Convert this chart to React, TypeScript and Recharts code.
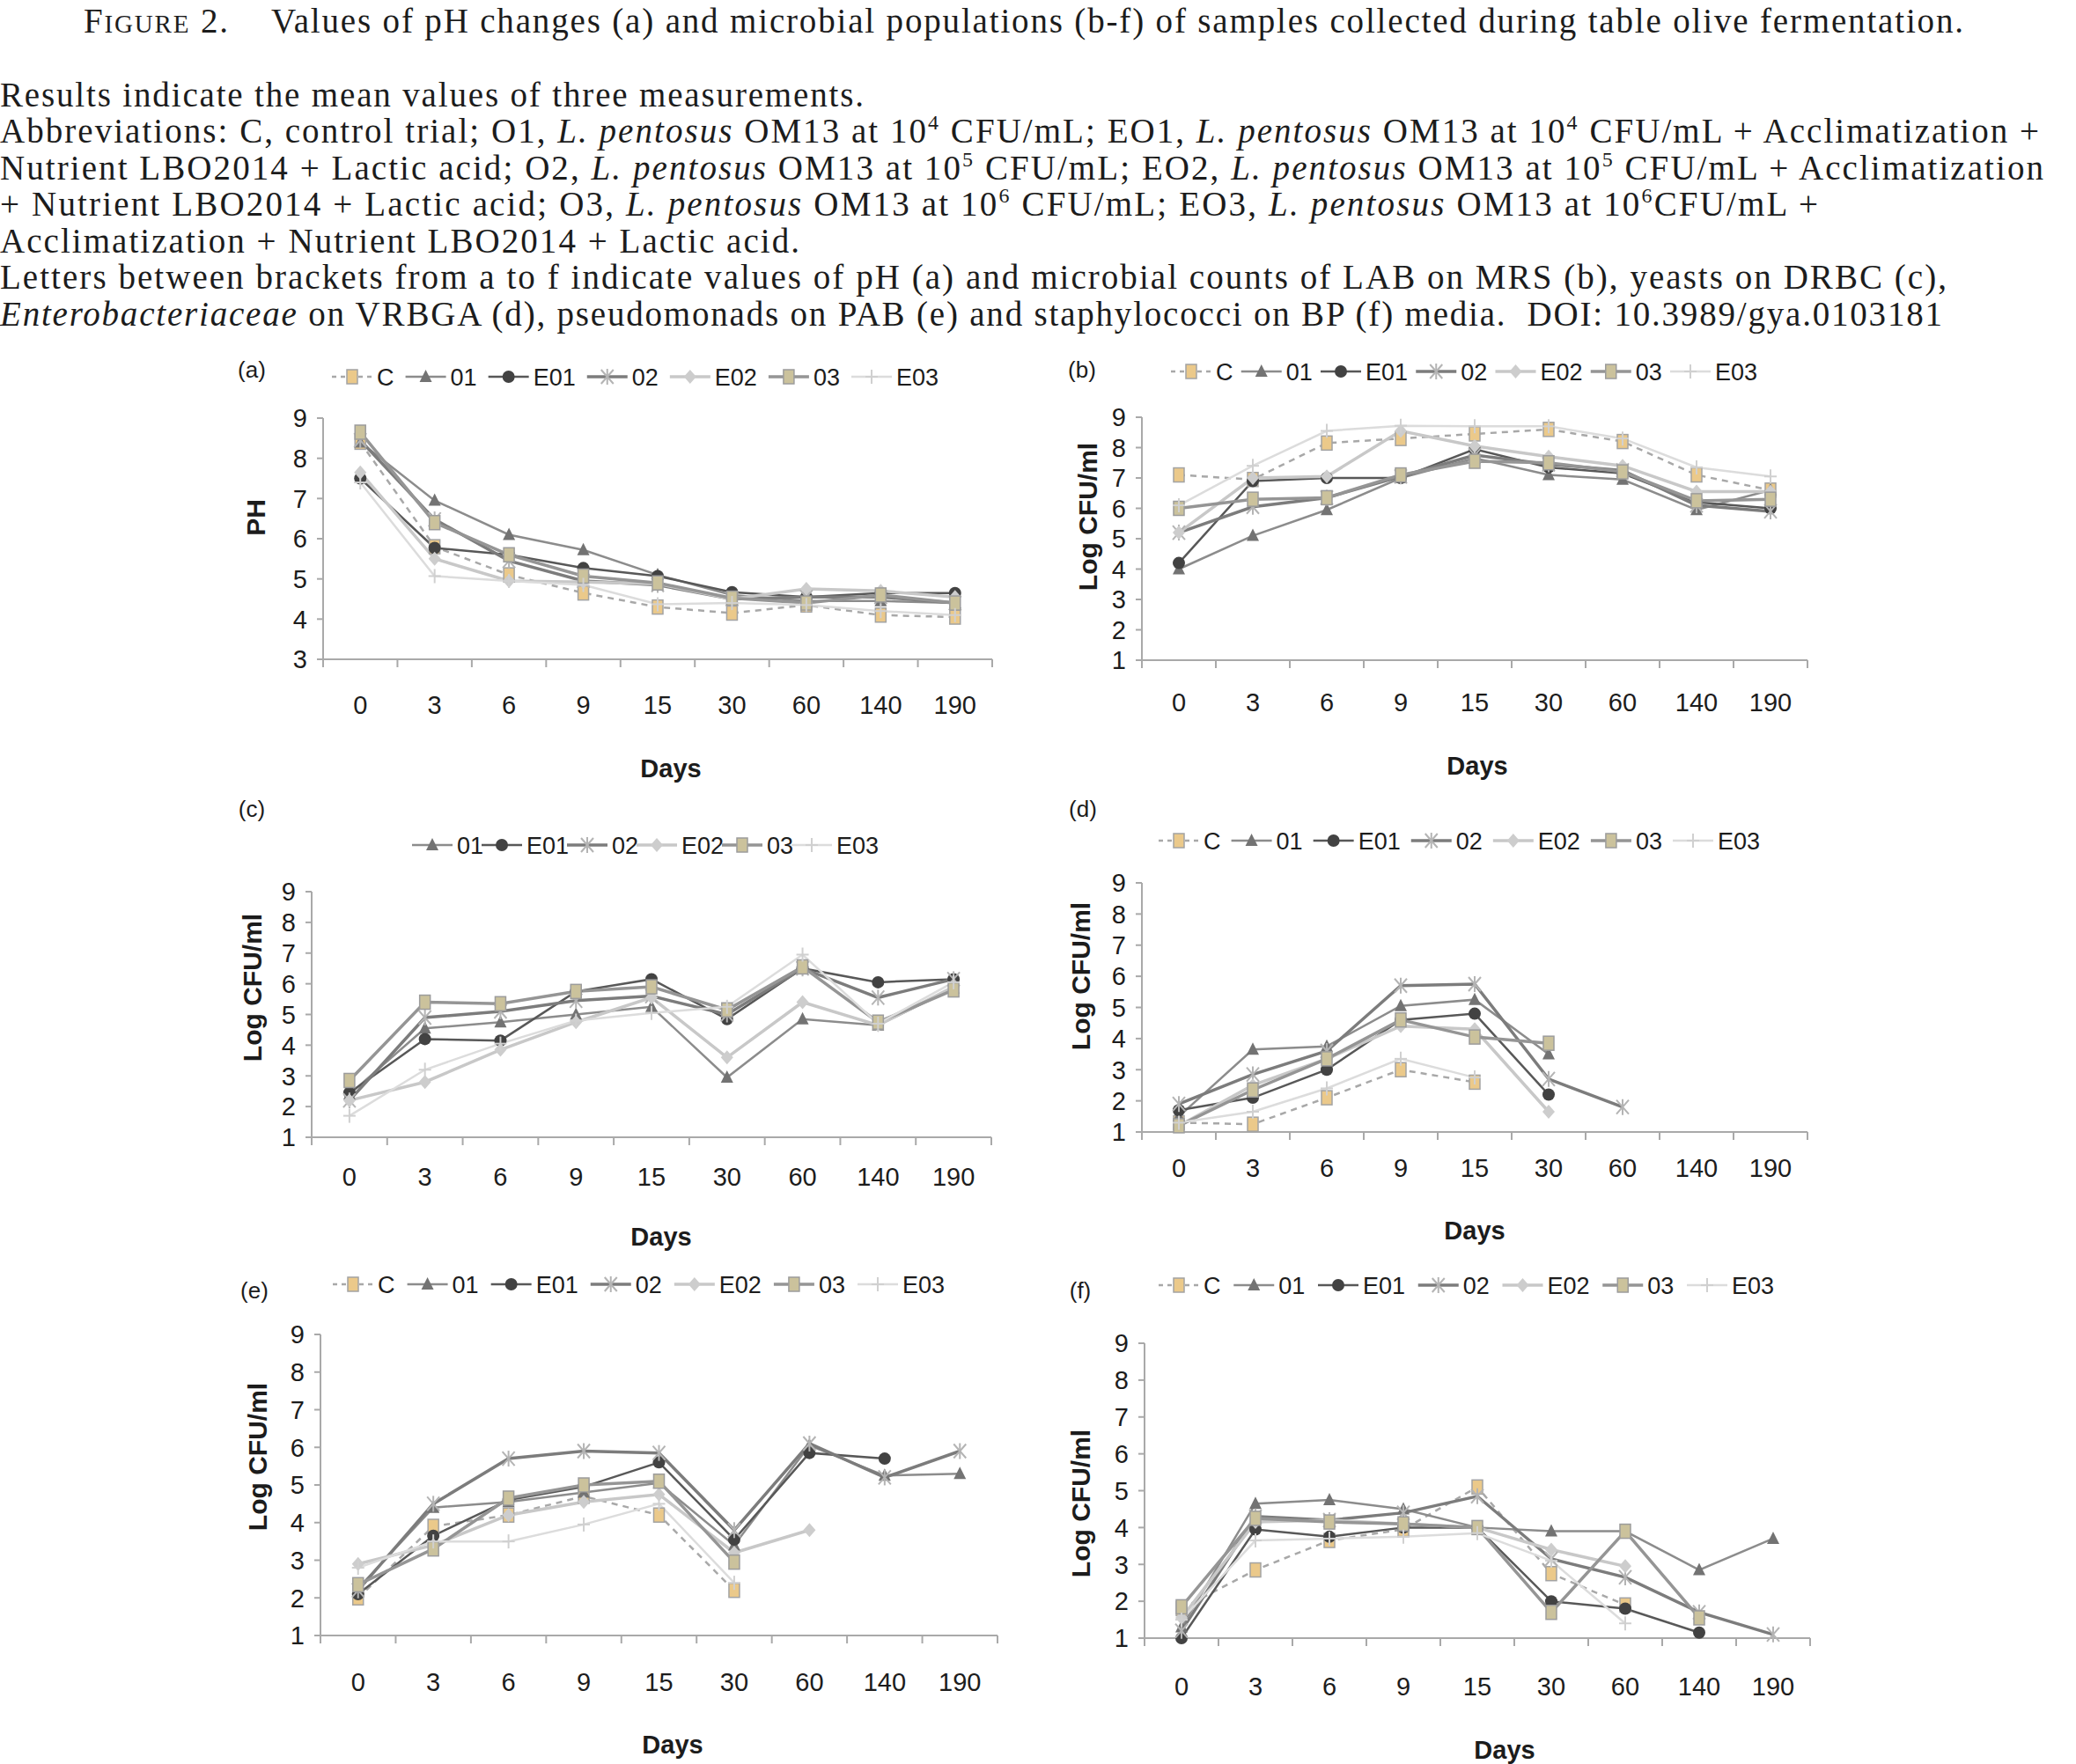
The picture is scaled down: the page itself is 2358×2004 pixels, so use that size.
import React from 'react';
import { LineChart, Line, XAxis, YAxis } from 'recharts';

// sampling days, shared by every panel
const days = ['0', '3', '6', '9', '15', '30', '60', '140', '190'];
const allTrials = ['C', '01', 'E01', '02', 'E02', '03', 'E03'];
const yeastTrials = ['01', 'E01', '02', 'E02', '03', 'E03'];

// (a) pH
const phC = [8.4, 5.8, 5.1, 4.65, 4.3, 4.15, 4.35, 4.1, 4.05];
const ph01 = [8.4, 6.95, 6.1, 5.72, 5.1, 4.6, 4.45, 4.45, 4.4];
const phE01 = [7.5, 5.77, 5.6, 5.27, 5.07, 4.67, 4.55, 4.65, 4.65];
const ph02 = [8.45, 6.48, 5.45, 4.95, 4.85, 4.5, 4.55, 4.55, 4.4];
const phE02 = [7.65, 5.5, 4.95, 4.92, 4.88, 4.5, 4.75, 4.7, 4.55];
const ph03 = [8.65, 6.4, 5.6, 5.07, 4.9, 4.52, 4.4, 4.6, 4.4];
const phE03 = [7.4, 5.07, 4.95, 4.85, 4.37, 4.4, 4.35, 4.2, 4.1];

// (b) LAB on MRS
const labC = [7.1, 6.95, 8.15, 8.3, 8.45, 8.6, 8.2, 7.1, 6.6];
const lab01 = [4.0, 5.1, 5.95, 7.0, 7.65, 7.1, 6.95, 5.95, 6.6];
const labE01 = [4.2, 6.9, 7.0, 7.0, 7.95, 7.35, 7.15, 6.2, 6.0];
const lab02 = [5.2, 6.05, 6.35, 7.05, 7.75, 7.45, 7.25, 6.1, 5.9];
const labE02 = [5.2, 7.0, 7.05, 8.55, 8.05, 7.7, 7.4, 6.55, 6.55];
const lab03 = [6.0, 6.3, 6.35, 7.1, 7.55, 7.5, 7.2, 6.25, 6.3];
const labE03 = [6.1, 7.4, 8.55, 8.72, 8.7, 8.7, 8.3, 7.35, 7.05];

// (c) yeasts on DRBC
const yeast01 = [2.4, 4.55, 4.75, 5.0, 5.25, 2.95, 4.85, 4.65, 5.85];
const yeastE01 = [2.45, 4.2, 4.15, 5.75, 6.15, 4.85, 6.5, 6.05, 6.15];
const yeast02 = [2.2, 4.9, 5.1, 5.45, 5.6, 5.0, 6.5, 5.55, 6.15];
const yeastE02 = [2.2, 2.8, 3.85, 4.75, 5.55, 3.6, 5.4, 4.65, 5.9];
const yeast03 = [2.85, 5.4, 5.35, 5.75, 5.9, 5.15, 6.55, 4.75, 5.8];
const yeastE03 = [1.7, 3.2, 4.05, 4.8, 5.05, 5.25, 6.95, 4.7, 6.05];

// (d) Enterobacteriaceae on VRBGA
const entC = [1.3, 1.25, 2.1, 3.0, 2.6, null, null, null, null];
const ent01 = [1.5, 3.65, 3.75, 5.05, 5.25, 3.5, null, null, null];
const entE01 = [1.7, 2.1, 3.0, 4.6, 4.8, 2.2, null, null, null];
const ent02 = [1.9, 2.85, 3.6, 5.7, 5.75, 2.7, 1.8, null, null];
const entE02 = [1.2, 2.5, 3.35, 4.4, 4.3, 1.65, null, null, null];
const ent03 = [1.2, 2.35, 3.35, 4.6, 4.05, 3.85, null, null, null];
const entE03 = [1.3, 1.65, 2.4, 3.35, 2.75, null, null, null, null];

// (e) pseudomonads on PAB
const pseC = [2.0, 3.9, 4.2, 4.7, 4.2, 2.2, null, null, null];
const pse01 = [2.25, 4.4, 4.55, 4.8, 5.05, 3.4, 6.05, 5.25, 5.3];
const pseE01 = [2.1, 3.65, 4.6, 4.95, 5.6, 3.55, 5.85, 5.7, null];
const pse02 = [2.2, 4.5, 5.7, 5.9, 5.85, 3.8, 6.1, 5.2, 5.9];
const pseE02 = [2.9, 3.4, 4.2, 4.55, 4.75, 3.2, 3.8, null, null];
const pse03 = [2.35, 3.3, 4.65, 5.0, 5.1, 2.95, null, null, null];
const pseE03 = [2.8, 3.5, 3.5, 3.95, 4.5, 2.4, null, null, null];

// (f) staphylococci on BP
const stC = [1.8, 2.85, 3.65, 3.95, 5.1, 2.75, 1.9, null, null];
const st01 = [1.3, 4.65, 4.75, 4.5, 4.0, 3.9, 3.9, 2.85, 3.7];
const stE01 = [1.0, 3.95, 3.75, 4.0, 4.0, 2.0, 1.8, 1.15, null];
const st02 = [1.2, 4.3, 4.2, 4.4, 4.85, 3.15, 2.65, 1.7, 1.1];
const stE02 = [1.55, 4.15, 4.2, 4.1, 4.0, 3.4, 2.95, null, null];
const st03 = [1.85, 4.25, 4.15, 4.1, 4.0, 1.7, 3.9, 1.55, null];
const stE03 = [1.5, 3.65, 3.7, 3.75, 3.85, 3.1, 1.4, null, null];

const SANS = '"Liberation Sans", Arial, Helvetica, sans-serif';
const SERIF = '"Liberation Serif", "Times New Roman", serif';
const INK = '#1c1c1c';
const AXIS = '#a9a9a9';

type Look = { stroke: string; width: number; dash?: string; shape: string; fill: string; edge?: string };

const looks: Record<string, Look> = {
  C: { stroke: '#a8a8a8', width: 2.5, dash: '7 6', shape: 'square', fill: '#ebc98a', edge: '#a3a3a3' },
  '01': { stroke: '#8c8c8c', width: 2.5, shape: 'triangle', fill: '#737373' },
  E01: { stroke: '#585858', width: 2.5, shape: 'circle', fill: '#424242' },
  '02': { stroke: '#7c7c7c', width: 3.5, shape: 'star', fill: '#b4b4b4' },
  E02: { stroke: '#c8c8c8', width: 3.5, shape: 'diamond', fill: '#cdcdcd' },
  '03': { stroke: '#959595', width: 3.5, shape: 'square', fill: '#cbc29c', edge: '#9c9c9c' },
  E03: { stroke: '#dcdcdc', width: 2.5, shape: 'plus', fill: '#d0d0d0' },
};

function Marker({ cx, cy, look }: { cx: number; cy: number; look: Look }) {
  switch (look.shape) {
    case 'square':
      return <rect x={cx - 6} y={cy - 8} width={12} height={16} fill={look.fill} stroke={look.edge} strokeWidth={1.5} />;
    case 'triangle':
      return <polygon points={`${cx},${cy - 8} ${cx + 7},${cy + 6} ${cx - 7},${cy + 6}`} fill={look.fill} />;
    case 'circle':
      return <circle cx={cx} cy={cy} r={7} fill={look.fill} />;
    case 'diamond':
      return <polygon points={`${cx},${cy - 8} ${cx + 7},${cy} ${cx},${cy + 8} ${cx - 7},${cy}`} fill={look.fill} />;
    case 'star':
      return (
        <g stroke={look.fill} strokeWidth={2}>
          <line x1={cx - 7} y1={cy - 8} x2={cx + 7} y2={cy + 8} />
          <line x1={cx + 7} y1={cy - 8} x2={cx - 7} y2={cy + 8} />
          <line x1={cx} y1={cy - 9} x2={cx} y2={cy + 9} />
        </g>
      );
    default:
      return (
        <g stroke={look.fill} strokeWidth={2}>
          <line x1={cx - 7} y1={cy} x2={cx + 7} y2={cy} />
          <line x1={cx} y1={cy - 8} x2={cx} y2={cy + 8} />
        </g>
      );
  }
}

type Panel = {
  letter: string;
  keys: string[];
  values: (number | null)[][];
  plot: [number, number, number, number]; // x0, y(top), x1, y(bottom)
  yMin: number;
  yLabel: string;
  legend: [number, number, number];
  letterPos: [number, number];
  daysPos: [number, number];
  yLabelPos: [number, number];
  tickY: number;
};

const panels: Panel[] = [
  {
    letter: '(a)', keys: allTrials, values: [phC, ph01, phE01, ph02, phE02, ph03, phE03],
    plot: [367, 475, 1127, 749], yMin: 3, yLabel: 'PH', legend: [377, 1066, 428],
    letterPos: [286, 420], daysPos: [762, 873], yLabelPos: [290, 588], tickY: 801,
  },
  {
    letter: '(b)', keys: allTrials, values: [labC, lab01, labE01, lab02, labE02, lab03, labE03],
    plot: [1297, 474, 2053, 750], yMin: 1, yLabel: 'Log CFU/ml', legend: [1330, 1996, 422],
    letterPos: [1229, 420], daysPos: [1678, 870], yLabelPos: [1235, 587], tickY: 798,
  },
  {
    letter: '(c)', keys: yeastTrials, values: [yeast01, yeastE01, yeast02, yeastE02, yeast03, yeastE03],
    plot: [354, 1013, 1126, 1292], yMin: 1, yLabel: 'Log CFU/ml', legend: [468, 998, 960],
    letterPos: [286, 919], daysPos: [751, 1405], yLabelPos: [286, 1122], tickY: 1337,
  },
  {
    letter: '(d)', keys: allTrials, values: [entC, ent01, entE01, ent02, entE02, ent03, entE03],
    plot: [1297, 1003, 2053, 1286], yMin: 1, yLabel: 'Log CFU/ml', legend: [1316, 1999, 955],
    letterPos: [1230, 919], daysPos: [1675, 1398], yLabelPos: [1227, 1109], tickY: 1327,
  },
  {
    letter: '(e)', keys: allTrials, values: [pseC, pse01, pseE01, pse02, pseE02, pse03, pseE03],
    plot: [364, 1516, 1133, 1858], yMin: 1, yLabel: 'Log CFU/ml', legend: [378, 1073, 1459],
    letterPos: [289, 1466], daysPos: [764, 1982], yLabelPos: [292, 1655], tickY: 1911,
  },
  {
    letter: '(f)', keys: allTrials, values: [stC, st01, stE01, st02, stE02, st03, stE03],
    plot: [1300, 1526, 2056, 1861], yMin: 1, yLabel: 'Log CFU/ml', legend: [1316, 2015, 1460],
    letterPos: [1227, 1466], daysPos: [1709, 1988], yLabelPos: [1227, 1708], tickY: 1916,
  },
];

// x ticks sit between the categories, the label in the middle of each one
function DayTick(props: any) {
  const { x, y, payload, index, band, drop } = props;
  const last = index === days.length - 1;
  return (
    <g>
      <line x1={x - band / 2} x2={x - band / 2} y1={y} y2={y + 9} stroke={AXIS} strokeWidth={2} />
      {last && <line x1={x + band / 2} x2={x + band / 2} y1={y} y2={y + 9} stroke={AXIS} strokeWidth={2} />}
      <text x={x} y={y + drop} textAnchor="middle" dominantBaseline="central" fontSize={29} fontFamily={SANS} fill={INK}>
        {payload.value}
      </text>
    </g>
  );
}

function PanelChart({ p }: { p: Panel }) {
  const [x0, y0, x1, y1] = p.plot;
  const yw = 80;
  const top = 20;
  const right = 20;
  const xh = 90;
  const band = (x1 - x0) / days.length;
  const rows = days.map((d, i) => {
    const row: any = { day: d };
    p.keys.forEach((k, j) => { row[k] = p.values[j][i]; });
    return row;
  });
  const yTicks: number[] = [];
  for (let v = p.yMin; v <= 9; v++) yTicks.push(v);

  return (
    <div style={{ position: 'absolute', left: x0 - yw, top: y0 - top }}>
      <LineChart width={x1 - x0 + yw + right} height={y1 - y0 + top + xh} data={rows}
        margin={{ top, right, bottom: 0, left: 0 }}>
        <XAxis dataKey="day" height={xh} interval={0} padding={{ left: band / 2, right: band / 2 }}
          tickSize={0} tickMargin={0} tickLine={false}
          axisLine={{ stroke: AXIS, strokeWidth: 2 }}
          tick={(t: any) => <DayTick {...t} band={band} drop={p.tickY - y1} />} />
        <YAxis type="number" domain={[p.yMin, 9]} ticks={yTicks} interval={0} width={yw}
          tickSize={7} tickMargin={11}
          axisLine={{ stroke: AXIS, strokeWidth: 2 }} tickLine={{ stroke: AXIS, strokeWidth: 2 }}
          tick={{ fontSize: 29, fill: INK, fontFamily: SANS }} />
        {p.keys.map((k) => {
          const look = looks[k];
          return (
            <Line key={k} dataKey={k} stroke={look.stroke} strokeWidth={look.width}
              strokeDasharray={look.dash} isAnimationActive={false}
              dot={(d: any) => (d.cy == null || isNaN(d.cy)
                ? <g key={`${k}-${d.index}`} />
                : <Marker key={`${k}-${d.index}`} cx={d.cx} cy={d.cy} look={look} />)}
              activeDot={false} />
          );
        })}
      </LineChart>
    </div>
  );
}

// rough Arial widths at 27px, used to spread legend entries
const legendTextW: Record<string, number> = { C: 19.5, '01': 30, E01: 48, '02': 30, E02: 48, '03': 30, E03: 48 };

function Legend({ p }: { p: Panel }) {
  const [lx0, lx1, ly] = p.legend;
  const sample = 46;
  const inner = 5;
  const used = p.keys.reduce((s, k) => s + sample + inner + legendTextW[k], 0);
  const gap = (lx1 - lx0 - used) / (p.keys.length - 1);
  let x = lx0;
  return (
    <g>
      {p.keys.map((k) => {
        const look = looks[k];
        const start = x;
        x += sample + inner + legendTextW[k] + gap;
        return (
          <g key={k}>
            <line x1={start} x2={start + sample} y1={ly} y2={ly} stroke={look.stroke}
              strokeWidth={look.width} strokeDasharray={look.dash ? '5 5' : undefined} />
            <Marker cx={start + sample / 2} cy={ly} look={look} />
            <text x={start + sample + inner} y={ly + 10} fontSize={27} fontFamily={SANS} fill={INK}>{k}</text>
          </g>
        );
      })}
    </g>
  );
}

function PanelText({ p }: { p: Panel }) {
  return (
    <g>
      <text x={p.letterPos[0]} y={p.letterPos[1] + 9} textAnchor="middle" fontSize={26} fontFamily={SANS} fill={INK}>
        {p.letter}
      </text>
      <text x={p.daysPos[0]} y={p.daysPos[1] + 10} textAnchor="middle" fontSize={29} fontWeight="bold"
        fontFamily={SANS} fill={INK}>Days</text>
      <text x={p.yLabelPos[0]} y={p.yLabelPos[1]} textAnchor="middle" dominantBaseline="central"
        fontSize={30} fontWeight="bold" fontFamily={SANS} fill={INK}
        transform={`rotate(-90 ${p.yLabelPos[0]} ${p.yLabelPos[1]})`}>{p.yLabel}</text>
      <Legend p={p} />
    </g>
  );
}

// caption lines: [kind, text] with t = plain, i = italic, s = superscript
type Seg = [string, string];
const LP: Seg = ['i', 'L. pentosus'];

const captionLines: { y: number; w: number; segs: Seg[] }[] = [
  { y: 121, w: 981, segs: [['t', 'Results indicate the mean values of three measurements.']] },
  {
    y: 162, w: 2316, segs: [['t', 'Abbreviations: C, control trial; O1, '], LP, ['t', ' OM13 at 10'], ['s', '4'],
      ['t', ' CFU/mL; EO1, '], LP, ['t', ' OM13 at 10'], ['s', '4'], ['t', ' CFU/mL + Acclimatization +']],
  },
  {
    y: 204, w: 2321, segs: [['t', 'Nutrient LBO2014 + Lactic acid; O2, '], LP, ['t', ' OM13 at 10'], ['s', '5'],
      ['t', ' CFU/mL; EO2, '], LP, ['t', ' OM13 at 10'], ['s', '5'], ['t', ' CFU/mL + Acclimatization']],
  },
  {
    y: 245, w: 2065, segs: [['t', '+ Nutrient LBO2014 + Lactic acid; O3, '], LP, ['t', ' OM13 at 10'], ['s', '6'],
      ['t', ' CFU/mL; EO3, '], LP, ['t', ' OM13 at 10'], ['s', '6'], ['t', 'CFU/mL +']],
  },
  { y: 287, w: 908, segs: [['t', 'Acclimatization + Nutrient LBO2014 + Lactic acid.']] },
  {
    y: 328, w: 2211,
    segs: [['t', 'Letters between brackets from a to f indicate values of pH (a) and microbial counts of LAB on MRS (b), yeasts on DRBC (c),']],
  },
  {
    y: 370, w: 2206, segs: [['i', 'Enterobacteriaceae'],
      ['t', ' on VRBGA (d), pseudomonads on PAB (e) and staphylococci on BP (f) media.  DOI: 10.3989/gya.0103181']],
  },
];

function CaptionLine({ y, w, segs, fs }: { y: number; w: number; segs: Seg[]; fs: number }) {
  const lift = Math.round(fs * 0.38);
  let raised = false;
  return (
    <text x={0} y={y} fontFamily={SERIF} fontSize={fs} fill={INK} textLength={w} lengthAdjust="spacing"
      style={{ whiteSpace: 'pre' }}>
      {segs.map(([kind, s], i) => {
        if (kind === 's') {
          raised = true;
          return <tspan key={i} dy={-lift} fontSize={Math.round(fs * 0.62)}>{s}</tspan>;
        }
        const dy = raised ? lift : undefined;
        raised = false;
        return <tspan key={i} dy={dy} fontStyle={kind === 'i' ? 'italic' : undefined}>{s}</tspan>;
      })}
    </text>
  );
}

function Caption() {
  const fs = 39;
  return (
    <g>
      <text x={95} y={37} fontFamily={SERIF} fontSize={fs} fill={INK} textLength={164} lengthAdjust="spacing">
        F<tspan fontSize={29}>IGURE</tspan> 2.
      </text>
      <text x={308} y={37} fontFamily={SERIF} fontSize={fs} fill={INK} textLength={1922} lengthAdjust="spacing">
        Values of pH changes (a) and microbial populations (b-f) of samples collected during table olive fermentation.
      </text>
      {captionLines.map((l, i) => <CaptionLine key={i} y={l.y} w={l.w} segs={l.segs} fs={fs} />)}
    </g>
  );
}

export default function App() {
  return (
    <div style={{ position: 'absolute', left: 0, top: 0, width: 2358, height: 2004, background: '#fff', overflow: 'hidden' }}>
      <svg width={2358} height={2004} style={{ position: 'absolute', left: 0, top: 0 }}>
        <Caption />
        {panels.map((p) => <PanelText key={p.letter} p={p} />)}
      </svg>
      {panels.map((p) => <PanelChart key={p.letter} p={p} />)}
    </div>
  );
}
